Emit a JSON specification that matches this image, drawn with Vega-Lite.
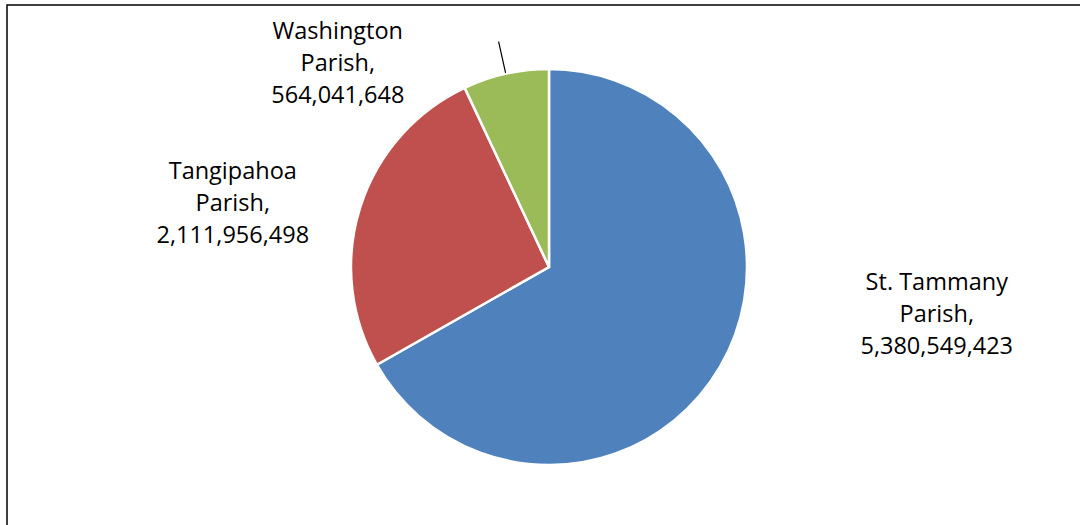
{
  "$schema": "https://vega.github.io/schema/vega-lite/v6.json",
  "width": 1084,
  "height": 524,
  "autosize": "none",
  "padding": {"left": 7, "top": 5, "right": -11, "bottom": -4},
  "background": "white",
  "config": {
    "view": {"stroke": null},
    "text": {"font": "Open Sans", "fontSize": 23.5, "color": "black"}
  },
  "data": {
    "values": [
      {"parish": "St. Tammany", "value": 5380549423, "order": 1},
      {"parish": "Tangipahoa", "value": 2111956498, "order": 2},
      {"parish": "Washington", "value": 564041648, "order": 3}
    ]
  },
  "transform": [
    {"window": [{"op": "sum", "field": "value", "as": "cum"}], "sort": [{"field": "order"}], "frame": [null, 0]},
    {"calculate": "datum.cum - datum.value / 2", "as": "mid"},
    {"calculate": "[datum.parish, 'Parish,', format(datum.value, ',d')]", "as": "label"}
  ],
  "layer": [
    {
      "transform": [{"filter": "datum.order === 1"}],
      "mark": {"type": "rect", "fill": "transparent", "stroke": "black", "strokeWidth": 1.5},
      "encoding": {}
    },
    {
      "mark": {"type": "arc", "radius": 198, "stroke": "white", "strokeWidth": 2.5},
      "encoding": {
        "theta": {"field": "value", "type": "quantitative", "stack": true, "scale": {"domain": [0, 8056547569]}},
        "order": {"field": "order", "type": "quantitative"},
        "color": {
          "field": "parish",
          "type": "nominal",
          "scale": {"domain": ["St. Tammany", "Tangipahoa", "Washington"], "range": ["#4F81BD", "#C0504D", "#9BBB59"]},
          "legend": null
        }
      }
    },
    {
      "transform": [{"filter": "datum.parish === 'Washington'"}],
      "mark": {"type": "arc", "radius": 231, "radius2": 199, "stroke": "black", "strokeWidth": 1.2, "fill": "transparent"},
      "encoding": {
        "theta": {"field": "mid", "type": "quantitative", "stack": null},
        "theta2": {"field": "mid"}
      }
    },
    {
      "transform": [{"filter": "datum.parish === 'St. Tammany'"}],
      "mark": {"type": "text", "radius": 230, "dx": 189, "dy": -100, "align": "center", "baseline": "middle", "lineHeight": 32},
      "encoding": {
        "theta": {"field": "mid", "type": "quantitative", "stack": null},
        "text": {"field": "label"}
      }
    },
    {
      "transform": [{"filter": "datum.parish === 'Tangipahoa'"}],
      "mark": {"type": "text", "radius": 230, "dx": -97, "dy": -25, "align": "center", "baseline": "middle", "lineHeight": 32},
      "encoding": {
        "theta": {"field": "mid", "type": "quantitative", "stack": null},
        "text": {"field": "label"}
      }
    },
    {
      "transform": [{"filter": "datum.parish === 'Washington'"}],
      "mark": {"type": "text", "radius": 230, "dx": -161, "dy": -11, "align": "center", "baseline": "middle", "lineHeight": 32},
      "encoding": {
        "theta": {"field": "mid", "type": "quantitative", "stack": null},
        "text": {"field": "label"}
      }
    }
  ]
}
